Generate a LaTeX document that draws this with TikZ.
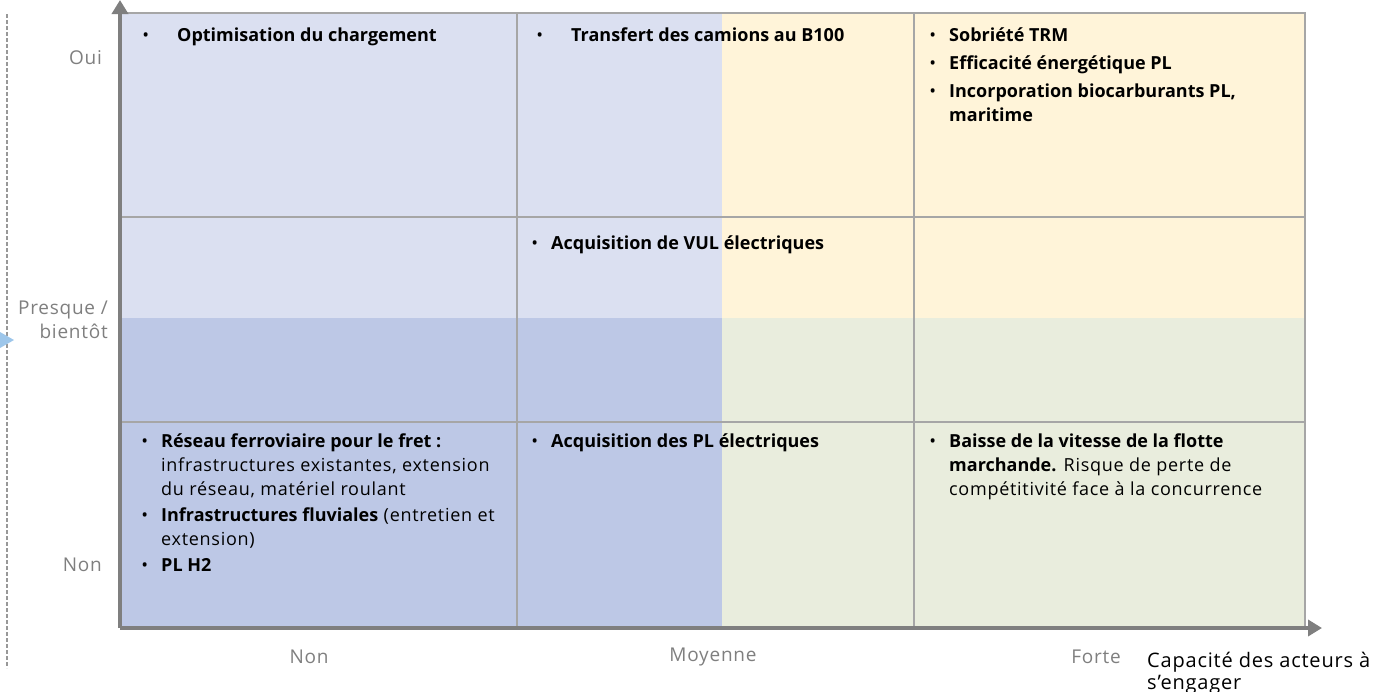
\documentclass[tikz,border=0pt]{standalone}
\usepackage{fontspec}
\setmainfont{Open Sans}[UprightFeatures={LetterSpace=4}]
\usepackage{tikz}
\usetikzlibrary{arrows.meta}
\definecolor{bleuclair}{HTML}{DBE0F1}
\definecolor{bleufonce}{HTML}{BDC8E6}
\definecolor{jaune}{HTML}{FFF4D9}
\definecolor{vertpale}{HTML}{E9EDDD}
\definecolor{grille}{HTML}{A6A6A6}
\definecolor{axe}{HTML}{7F7F7F}
\definecolor{fleche}{HTML}{9DC6EA}
\newcommand{\puce}[1][13bp]{\makebox[0pt][r]{\textbullet\hspace{#1}}}

\begin{document}
\begin{tikzpicture}[
  item/.style={anchor=base west,inner sep=0pt,align=left,font=\fontsize{18bp}{24bp}\selectfont},
  niveau/.style={inner sep=0pt,text=axe,font=\fontsize{19bp}{24bp}\selectfont},
  trait/.style={draw=grille,line width=2.5bp},
  axis/.style={draw=axe,line width=4bp,-{Triangle[length=14bp,width=16bp]}}]
\useasboundingbox (0bp,0bp) rectangle (1392bp,-692bp);

\fill[bleuclair] (120bp,-13bp) rectangle (722bp,-318bp);
\fill[jaune] (722bp,-13bp) rectangle (1305bp,-318bp);
\fill[bleufonce] (120bp,-318bp) rectangle (722bp,-628bp);
\fill[vertpale] (722bp,-318bp) rectangle (1305bp,-628bp);

\draw[trait] (120bp,-13bp) -- (1305bp,-13bp) -- (1305bp,-628bp);
\draw[trait] (517bp,-13bp) -- (517bp,-628bp);
\draw[trait] (914bp,-13bp) -- (914bp,-628bp);
\draw[trait] (120bp,-217bp) -- (1305bp,-217bp);
\draw[trait] (120bp,-422bp) -- (1305bp,-422bp);

\coordinate (O) at (120bp,-628bp);
\coordinate (ytop) at (120bp,0bp);
\coordinate (xend) at (1322bp,-628bp);
\draw[axis] (O) -- (ytop);
\draw[axis] (O) -- (xend);

\draw[axe!80,line width=1.2bp,dash pattern=on 4bp off 2bp] (7bp,-14bp) -- (7bp,-668bp);
\fill[fleche] (0bp,-332bp) -- (14bp,-340bp) -- (0bp,-348bp) -- cycle;

\node (oui) at (102bp,-58bp)[niveau,anchor=east] {Oui};
\node (presque) at (108bp,-320bp)[niveau,anchor=east,align=right] {Presque /\\bientôt};
\node (nonY) at (102bp,-565bp)[niveau,anchor=east] {Non};
\node (nonX) at (309bp,-657bp)[niveau] {Non};
\node (moyenne) at (713bp,-657bp)[niveau] {Moyenne};
\node (forte) at (1121bp,-657bp)[niveau,anchor=east] {Forte};
\node (capacite) at (1147bp,-652bp)[inner sep=0pt,anchor=north west,align=left,font=\fontsize{20bp}{22bp}\selectfont] {Capacité des acteurs à\\s’engager};

\node (chargement) at (177bp,-41bp)[item] {\puce[28bp]\textbf{Optimisation du chargement}};
\node (b100) at (571bp,-41bp)[item] {\puce[28bp]\textbf{Transfert des camions au B100}};
\node (trm) at (949bp,-41bp)[item] {\puce\textbf{Sobriété TRM}};
\node (efficacite) at (949bp,-69bp)[item] {\puce\textbf{Efficacité énergétique PL}};
\node (biocarb) at (949bp,-121bp)[item] {\puce\textbf{Incorporation biocarburants PL,}\\\textbf{maritime}};
\node (vul) at (551bp,-249bp)[item] {\puce\textbf{Acquisition de VUL électriques}};
\node (ferro) at (161bp,-495bp)[item] {\puce\textbf{Réseau ferroviaire pour le fret :}\\infrastructures existantes, extension\\du réseau, matériel roulant};
\node (fluvial) at (161bp,-545bp)[item] {\puce\textbf{Infrastructures fluviales} (entretien et\\extension)};
\node (h2) at (161bp,-571bp)[item] {\puce\textbf{PL H2}};
\node (plelec) at (551bp,-447bp)[item] {\puce\textbf{Acquisition des PL électriques}};
\node (vitesse) at (949bp,-495bp)[item] {\puce\textbf{Baisse de la vitesse de la flotte}\\\textbf{marchande.} Risque de perte de\\compétitivité face à la concurrence};
\end{tikzpicture}
\end{document}
